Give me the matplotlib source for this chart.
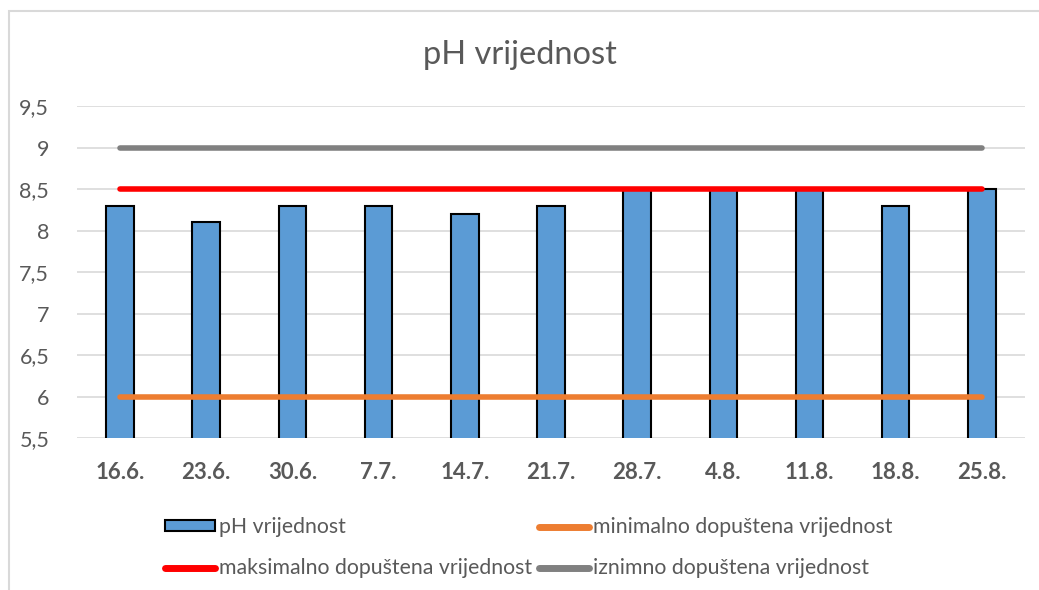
import matplotlib.pyplot as plt
from matplotlib.patches import Rectangle
from matplotlib.lines import Line2D
from matplotlib.ticker import FuncFormatter

plt.rcParams['font.family'] = ['Lato', 'DejaVu Sans']

dates = ['16.6.', '23.6.', '30.6.', '7.7.', '14.7.', '21.7.', '28.7.', '4.8.', '11.8.', '18.8.', '25.8.']
ph_values = [8.3, 8.1, 8.3, 8.3, 8.2, 8.3, 8.5, 8.5, 8.5, 8.3, 8.5]
min_allowed = [6.0] * len(dates)
max_allowed = [8.5] * len(dates)
exc_allowed = [9.0] * len(dates)

text_grey = '#595959'

fig = plt.figure(figsize=(10.39, 5.9), dpi=100)
ax = fig.add_axes([0.0741, 0.2576, 0.9124, 0.5627])

x = list(range(len(dates)))
ax.bar(x, ph_values, width=0.32, color='#5b9bd5', edgecolor='black', linewidth=1.5,
       label='pH vrijednost', zorder=2)
ax.plot(x, min_allowed, color='#ed7d31', linewidth=4, solid_capstyle='round',
        label='minimalno dopuštena vrijednost', zorder=3)
ax.plot(x, max_allowed, color='#ff0000', linewidth=4, solid_capstyle='round',
        label='maksimalno dopuštena vrijednost', zorder=3)
ax.plot(x, exc_allowed, color='#808080', linewidth=4, solid_capstyle='round',
        label='iznimno dopuštena vrijednost', zorder=3)

ax.set_xlim(-0.5, len(dates) - 0.5)
ax.set_ylim(5.5, 9.5)
ax.set_yticks([5.5, 6, 6.5, 7, 7.5, 8, 8.5, 9, 9.5])
ax.yaxis.set_major_formatter(FuncFormatter(lambda v, p: f'{v:g}'.replace('.', ',')))
ax.set_xticks(x)
ax.set_xticklabels(dates, fontweight='bold', fontsize=16)
ax.tick_params(axis='y', labelsize=15.5)
ax.tick_params(axis='both', length=0, colors=text_grey)
ax.tick_params(axis='x', pad=17)
ax.tick_params(axis='y', pad=20)
ax.grid(axis='y', color='#d9d9d9', linewidth=1.2, zorder=0)
for s in ax.spines.values():
    s.set_visible(False)

fig.text(0.5, 1 - 55 / 590, 'pH vrijednost', ha='center', va='center', fontsize=23.5, color=text_grey)

# outer chart frame
fig.patches.append(Rectangle((9 / 1039, -0.05), 1.1, 1.05 - 11 / 590, transform=fig.transFigure,
                             fill=False, edgecolor='#d9d9d9', linewidth=1.5))

h_bar = Rectangle((0, 0), 1, 1, facecolor='#5b9bd5', edgecolor='black', linewidth=1.5)
handles = [h_bar,
           Line2D([], [], color='#ff0000', linewidth=5, solid_capstyle='round'),
           Line2D([], [], color='#ed7d31', linewidth=5, solid_capstyle='round'),
           Line2D([], [], color='#808080', linewidth=5, solid_capstyle='round')]
labels = ['pH vrijednost', 'maksimalno dopuštena vrijednost',
          'minimalno dopuštena vrijednost', 'iznimno dopuštena vrijednost']
leg = fig.legend(handles, labels, ncol=2, loc='upper left', bbox_to_anchor=(148 / 1039, 1 - 500 / 590),
                 frameon=False, fontsize=15.3, handlelength=2.35, handleheight=0.4, handletextpad=0.2,
                 columnspacing=0.3, labelspacing=1.0, labelcolor=text_grey, borderpad=0.3)

fig.savefig('out.png', dpi=100)
